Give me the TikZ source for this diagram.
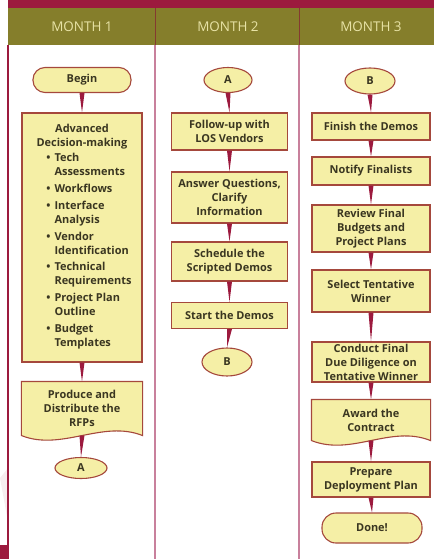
\documentclass[tikz,border=0pt]{standalone}
\usepackage{fontspec}
\setmainfont{Open Sans}
\usepackage{tikz}
\usetikzlibrary{shapes.geometric}
\usetikzlibrary{calc}
\usetikzlibrary{backgrounds}

\definecolor{crimson}{HTML}{9C1A3E}
\definecolor{olive}{HTML}{857E2B}
\definecolor{hdrtext}{HTML}{E8E3A6}
\definecolor{nodefill}{HTML}{F5EFA6}
\definecolor{nodeline}{HTML}{A5483C}
\definecolor{nodetext}{HTML}{3A3621}
\definecolor{divider}{HTML}{C8809C}

\begin{document}
\begin{tikzpicture}[x=1bp, y=-1bp,
  box/.style={draw=nodeline, fill=nodefill, line width=1.1bp, text=nodetext, align=center,
    inner sep=1bp, minimum width=116bp, font=\bfseries\fontsize{11}{14}\selectfont},
  term/.style={box, rounded corners=12bp, minimum width=98bp},
  conn/.style={box, ellipse, minimum width=48bp, minimum height=24bp, inner sep=0pt},
  docbox/.style={box, draw=none, fill=none},
  docline/.style={draw=nodeline, fill=nodefill, line width=1.1bp},
  hdr/.style={text=hdrtext, font=\fontsize{13.5}{15}\selectfont}
]
  \useasboundingbox (0,0) rectangle (434,559);

  % header band and columns
  \fill[crimson] (8,0) rectangle (434,8);
  \fill[olive] (8,8) rectangle (434,45);
  \fill[crimson] (0,545) rectangle (8,559);
  \fill[crimson!8] (0,478) -- (8,468) -- (8,522) -- cycle;
  \draw[crimson, line width=1.5bp] (8,45) -- (8,559);
  \draw[divider, line width=1.5bp] (155,45) -- (155,559);
  \draw[divider, line width=1.5bp] (299,45) -- (299,559);
  \draw[nodeline!80!black, line width=1bp] (155,8) -- (155,45);
  \draw[nodeline!80!black, line width=1bp] (299,8) -- (299,45);

  \node[hdr] (m1) at (82,27)  {MONTH 1};
  \node[hdr] (m2) at (228,27) {MONTH 2};
  \node[hdr] (m3) at (371,27) {MONTH 3};

  % month 1
  \node[term, minimum height=25bp] (begin) at (82,80) {Begin};
  \node[box, minimum width=120bp, minimum height=249bp] (adm) at (82,237.5) {%
    Advanced\\Decision-making\\[1bp]
    \hspace*{14bp}\begin{tabular}[t]{@{}l@{\hspace{4bp}}l@{}}
      \textbullet & Tech\\ & Assessments\\[3bp]
      \textbullet & Workflows\\[3bp]
      \textbullet & Interface\\ & Analysis\\[3bp]
      \textbullet & Vendor\\ & Identification\\[3bp]
      \textbullet & Technical\\ & Requirements\\[3bp]
      \textbullet & Project Plan\\ & Outline\\[3bp]
      \textbullet & Budget\\ & Templates
    \end{tabular}};
  \node[docbox, minimum width=120bp, minimum height=53bp] (rfp) at (82,408.5)
    {Produce and\\Distribute the\\RFPs};
  \node[conn, minimum width=52bp, minimum height=21bp] (a1) at (81,468) {A};

  % month 2
  \node[conn, minimum height=25bp] (a2) at (228,80) {A};
  \node[box, minimum height=37bp] (follow) at (229.5,131.5) {Follow-up with\\LOS Vendors};
  \node[box, minimum height=51bp] (answer) at (229.5,197.5) {Answer Questions,\\Clarify\\Information};
  \node[box, minimum height=39bp] (sched) at (229.5,261.5) {Schedule the\\Scripted Demos};
  \node[box, minimum height=26bp] (start) at (229.5,315.5) {Start the Demos};
  \node[conn, minimum width=50bp, minimum height=28bp] (b2) at (227,362) {B};

  % month 3
  \node[conn, minimum width=50bp, minimum height=26bp] (b3) at (370,81) {B};
  \node[box, minimum width=118bp, minimum height=27bp] (finish) at (371,126.5) {Finish the Demos};
  \node[box, minimum width=118bp, minimum height=28bp] (notify) at (371,171) {Notify Finalists};
  \node[box, minimum width=118bp, minimum height=47bp] (review) at (371,228.5) {Review Final\\Budgets and\\Project Plans};
  \node[box, minimum width=118bp, minimum height=42bp] (select) at (371,291) {Select Tentative\\Winner};
  \node[box, minimum width=118bp, minimum height=40bp] (conduct) at (371,362) {Conduct Final\\Due Diligence on\\Tentative Winner};
  \node[docbox, minimum width=118bp, minimum height=40bp] (award) at (371,420) {Award the\\Contract};
  \node[box, minimum width=118bp, minimum height=35bp] (prepare) at (371,479.5) {Prepare\\Deployment Plan};
  \node[term, minimum width=100bp, minimum height=30bp, rounded corners=14bp] (done) at (372,528) {Done!};

  % wavy document shapes
  \begin{scope}[on background layer]
    \path[docline] (rfp.south west) -- (rfp.north west) -- (rfp.north east) -- (rfp.south east)
      .. controls +(-40,-16) and +(40,16) .. (rfp.south west) -- cycle;
    \path[docline] (award.south west) -- (award.north west) -- (award.north east) -- (award.south east)
      .. controls +(-40,-16) and +(40,16) .. (award.south west) -- cycle;
  \end{scope}

  % tapered connectors
  \foreach \a/\b in {begin/adm, adm/rfp, rfp/a1,
                     a2/follow, follow/answer, answer/sched, sched/start, start/b2,
                     b3/finish, finish/notify, notify/review, review/select,
                     select/conduct, conduct/award, award/prepare, prepare/done}
    \fill[crimson] ($(\a.south)+(-2.5,0)$) -- ($(\a.south)+(2.5,0)$) -- (\b.north) -- cycle;
\end{tikzpicture}
\end{document}
